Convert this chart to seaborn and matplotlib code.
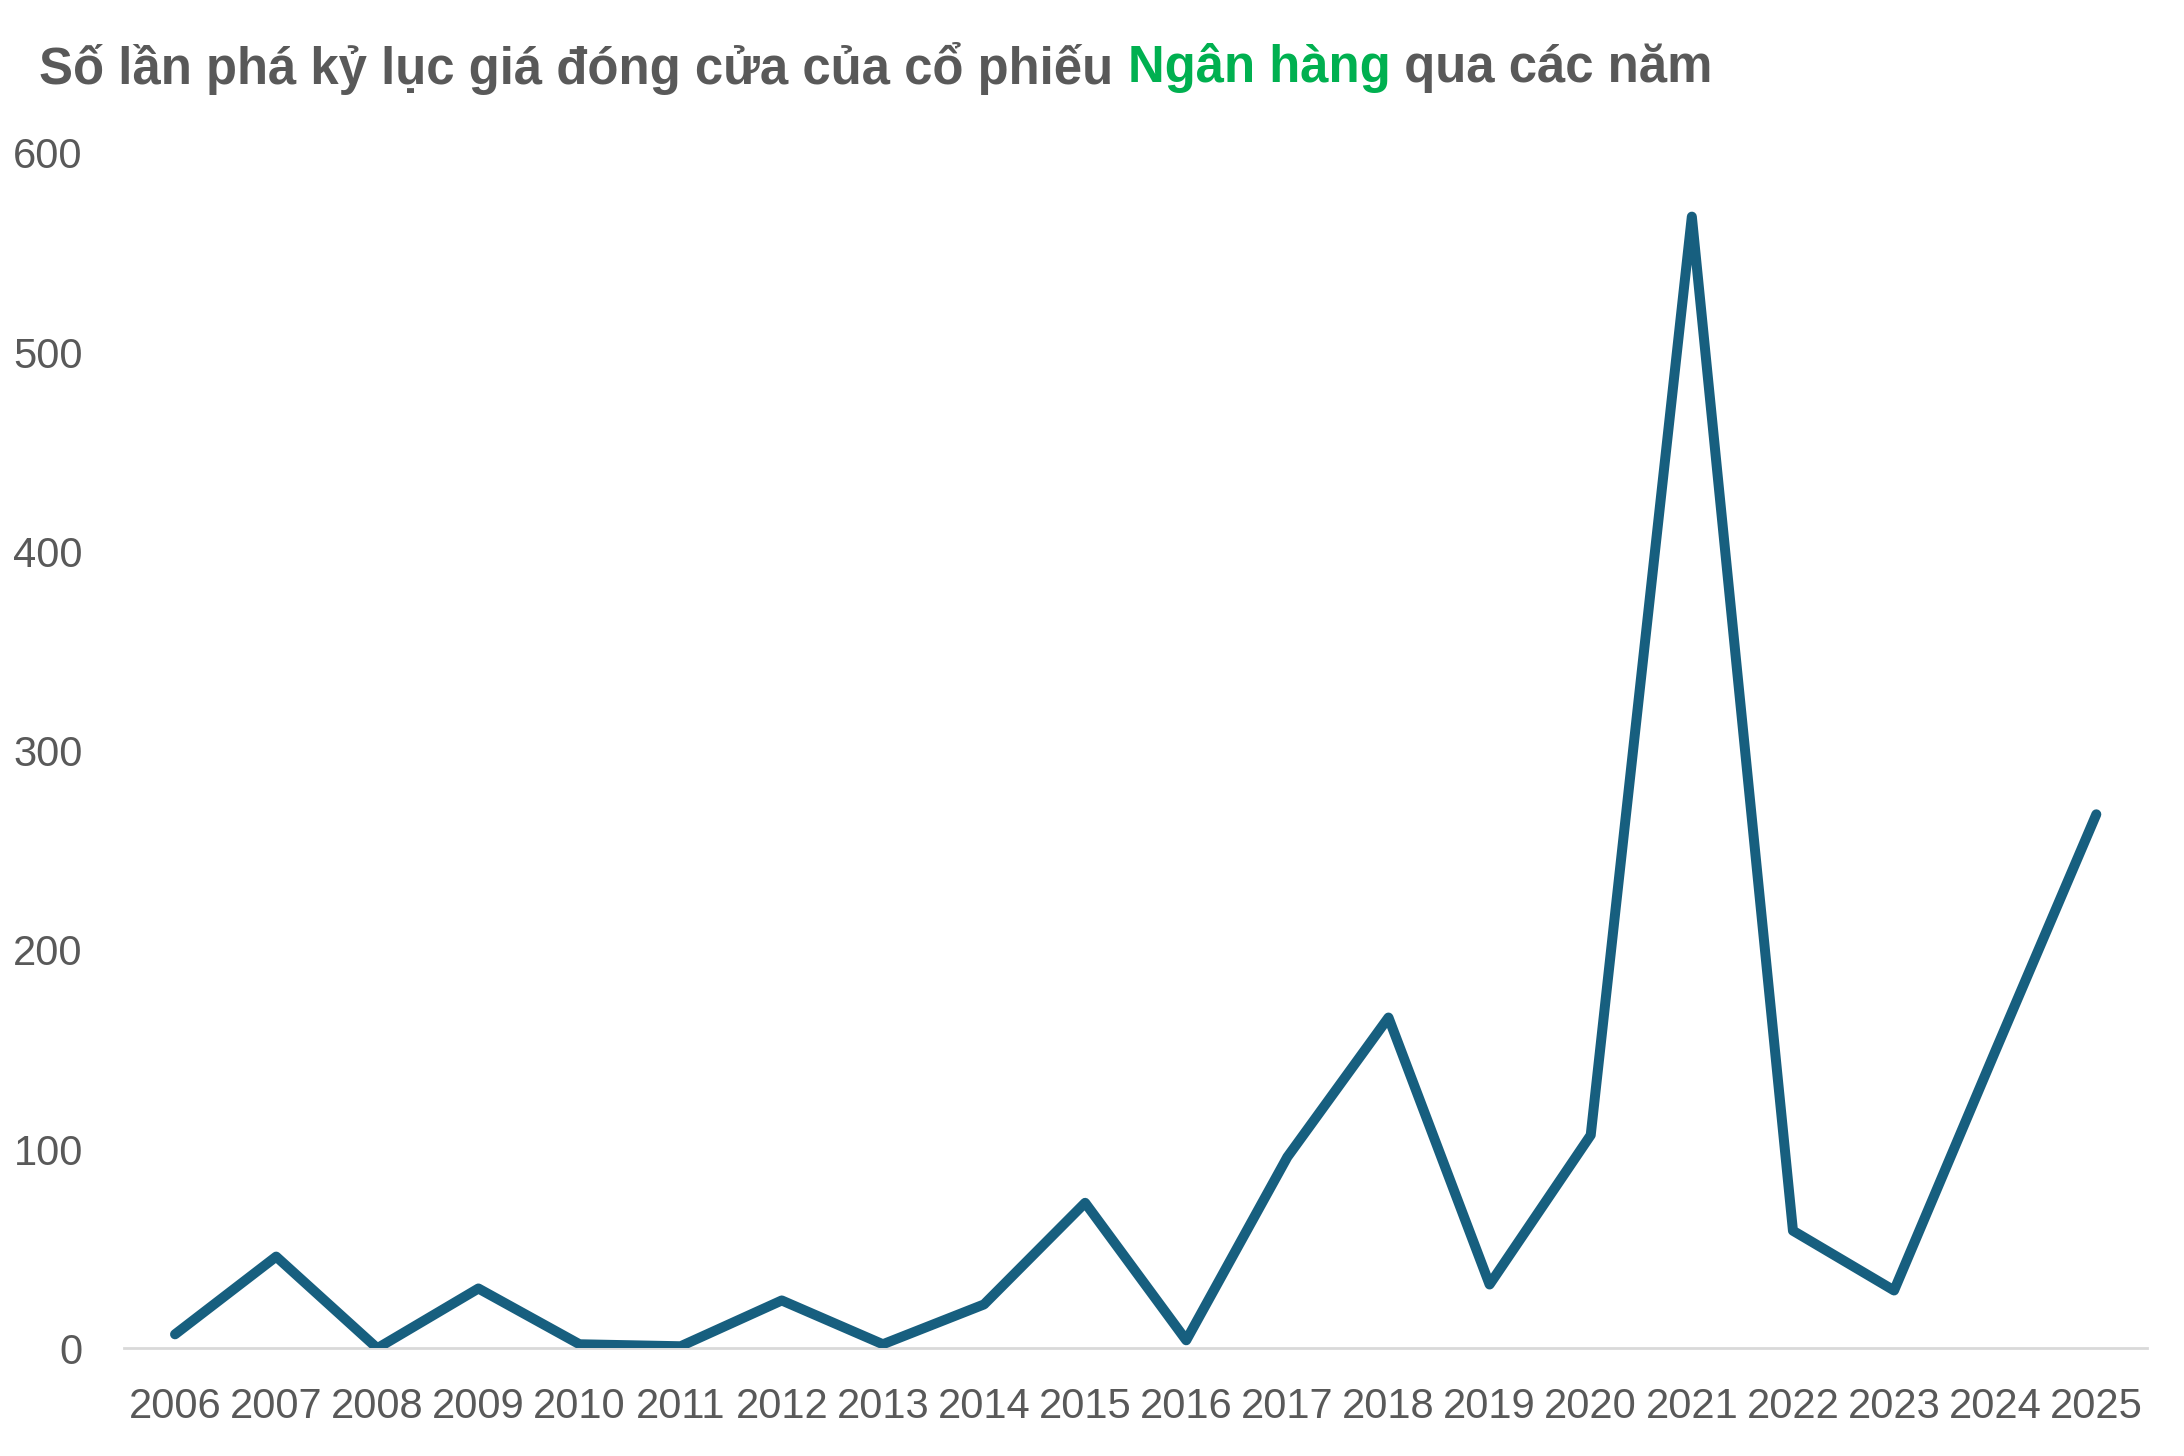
import matplotlib
matplotlib.use("Agg")
import matplotlib.pyplot as plt
import seaborn as sns
import pandas as pd

years = [str(y) for y in range(2006, 2026)]
counts = [7, 46, 0, 30, 2, 1, 24, 2, 22, 73, 4, 96, 166, 32, 107, 568, 59, 29, 149, 268]
y_ticks = [0, 100, 200, 300, 400, 500, 600]
title_parts = ["Số lần phá kỷ lục giá đóng cửa của cổ phiếu ", "Ngân hàng", " qua các năm"]
title_colors = ["#595959", "#00B050", "#595959"]

sns.set_theme(style="white")
plt.rcParams["font.family"] = ["Liberation Sans", "DejaVu Sans"]

df = pd.DataFrame({"year": years, "count": counts})

fig = plt.figure(figsize=(10.92, 7.28), dpi=200)
ax = fig.add_axes([0.057, 0.074, 0.926, 0.821])

sns.lineplot(data=df, x="year", y="count", ax=ax, color="#175F7F",
             linewidth=3.6, solid_capstyle="round", solid_joinstyle="round")

ax.set_xlim(-0.5, len(years) - 0.5)
ax.set_ylim(0, 600)
ax.set_yticks(y_ticks)
ax.set_yticklabels([str(t) for t in y_ticks])
ax.set_xlabel("")
ax.set_ylabel("")
for s in ["top", "right", "left"]:
    ax.spines[s].set_visible(False)
ax.spines["bottom"].set_color("#D9D9D9")
ax.spines["bottom"].set_linewidth(1.0)
ax.spines["bottom"].set_zorder(0)
ax.tick_params(axis="both", length=0, labelsize=15, labelcolor="#595959")
ax.tick_params(axis="y", pad=15)
ax.tick_params(axis="x", pad=14)
ax.grid(False)

# multi-coloured title
fig.canvas.draw()
renderer = fig.canvas.get_renderer()
x = 0.018
yt = 0.953
for part, col in zip(title_parts, title_colors):
    t = fig.text(x, yt, part, color=col, fontsize=18.3, fontweight="bold",
                 ha="left", va="center")
    bb = t.get_window_extent(renderer=renderer)
    x += bb.width / fig.bbox.width

fig.savefig("out.png", dpi=200)
